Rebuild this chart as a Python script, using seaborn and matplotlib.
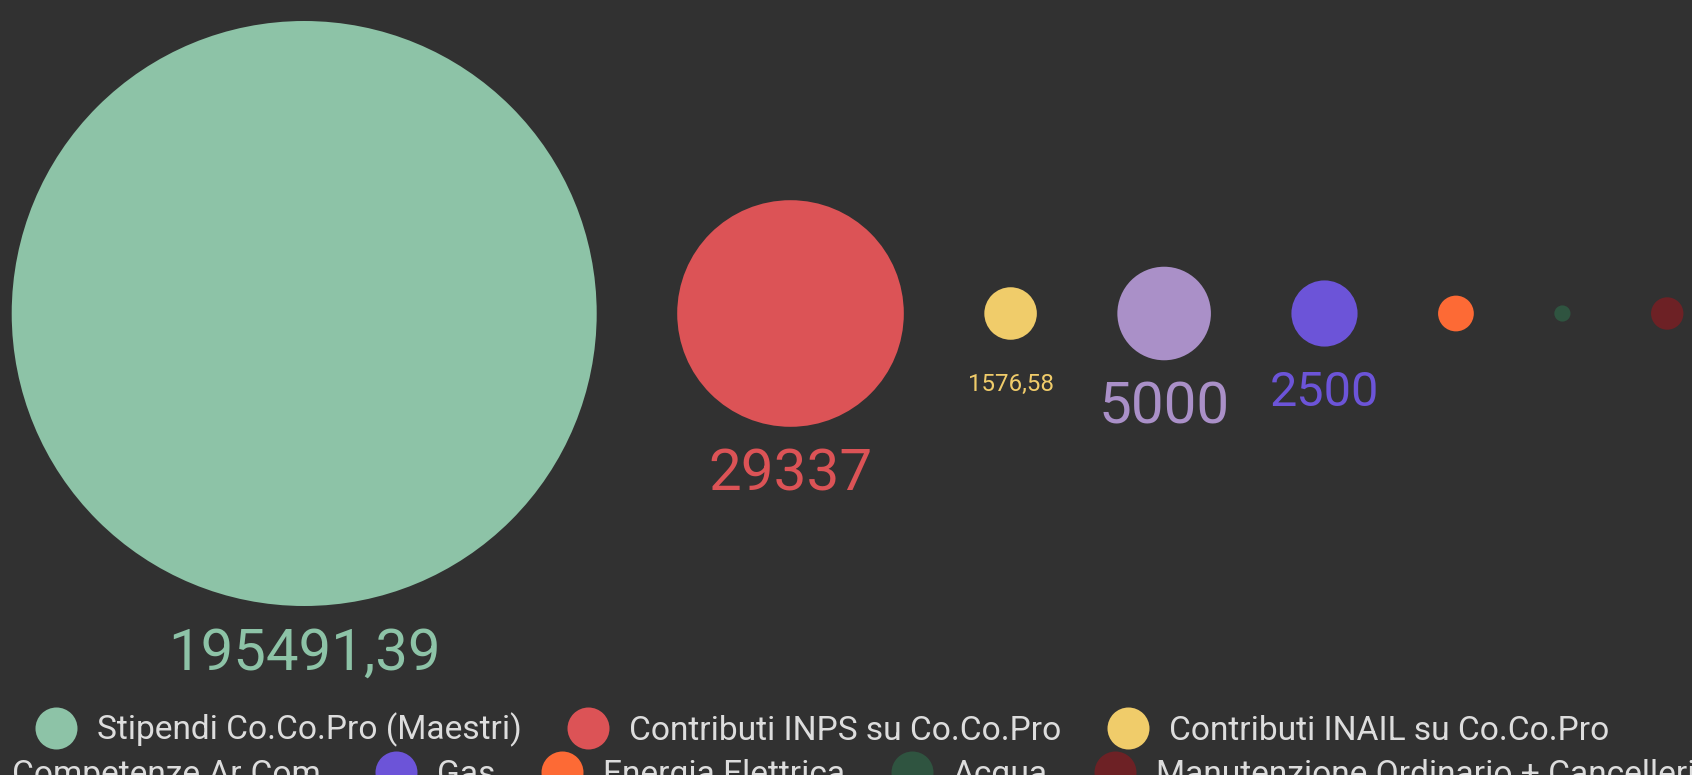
import numpy as np
import pandas as pd
import matplotlib
matplotlib.use("Agg")
import matplotlib.pyplot as plt
import seaborn as sns
from matplotlib.lines import Line2D

# ---- data ----
categories = [
    "Stipendi Co.Co.Pro (Maestri)",
    "Contributi INPS su Co.Co.Pro",
    "Contributi INAIL su Co.Co.Pro",
    "Competenze Ar.Com.",
    "Gas",
    "Energia Elettrica",
    "Acqua",
    "Manutenzione Ordinario + Cancelleria",
]
values = [195491.39, 29337, 1576.58, 5000, 2500, 730, 150, 600]
labels = ["195491,39", "29337", "1576,58", "5000", "2500", "", "", ""]
colors = ["#8dc3a7", "#dc5356", "#f0cc6a", "#aa90c8", "#6c54d8",
          "#fd6a35", "#2f5440", "#6d2125"]

# ---- style ----
label_sizes = [41.8, 42.0, 17.4, 42.0, 35.0, 0, 0, 0]
BG = "#313131"
TXT = "#dddddd"
W, H, DPI = 1692, 775, 100

sns.set_style("dark")
plt.rcParams["font.family"] = ["Roboto", "DejaVu Sans"]

# layout (pixel units): circle area proportional to value, fixed gap between circles
vals = np.array(values, dtype=float)
vmax = vals.max()
max_d = 585.0
radii = max_d / 2 * np.sqrt(vals / vmax)
gap = 80.5
left = 11.7
cx = left + np.concatenate([[0], np.cumsum(2 * radii[:-1] + gap)]) + radii
cy = 313.5

df = pd.DataFrame({"cat": categories, "value": vals, "x": cx, "y": np.full(len(vals), cy)})

fig = plt.figure(figsize=(W / DPI, H / DPI), dpi=DPI, facecolor=BG)
ax = fig.add_axes([0, 0, 1, 1])
ax.set_facecolor(BG)

smax = (max_d * 72 / DPI) ** 2
sns.scatterplot(data=df, x="x", y="y", hue="cat", palette=dict(zip(categories, colors)),
                size="value", sizes=(0, smax), size_norm=(0, vmax),
                linewidth=0, alpha=1, legend=False, ax=ax)
ax.set_xlim(0, W)
ax.set_ylim(H, 0)
ax.axis("off")

for i in range(len(values)):
    fs = label_sizes[i]
    if fs <= 0 or not labels[i]:
        continue
    digit_h = 0.711 * fs * DPI / 72
    base = cy + radii[i] + 42.5 + digit_h / 2
    ax.text(cx[i], base, labels[i], ha="center", va="baseline", color=colors[i], fontsize=fs)

F = 24.1
def make_leg(idx, x_px, y_px):
    handles = [Line2D([], [], marker="o", ls="", markersize=42 * 0.72,
                      markerfacecolor=colors[i], markeredgewidth=0) for i in idx]
    fig.legend(handles, [categories[i] for i in idx], loc="center left",
               bbox_to_anchor=(x_px / W, 1 - y_px / H), ncol=len(idx), frameon=False,
               fontsize=F, handlelength=42 / (F * DPI / 72), handletextpad=0.6,
               columnspacing=1.36, borderpad=0, borderaxespad=0, labelcolor=TXT)

make_leg([0, 1, 2], 35, 730)
make_leg([3, 4, 5, 6, 7], -50, 775)

fig.savefig("out.png", dpi=DPI, facecolor=BG)
